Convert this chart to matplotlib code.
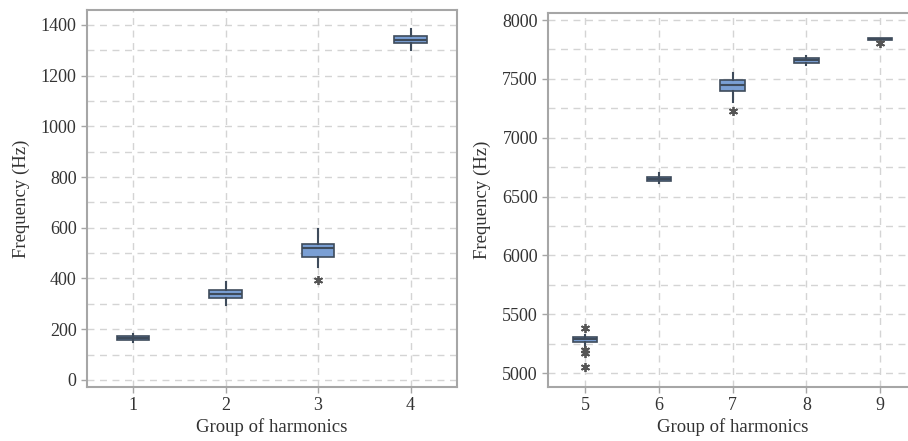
import matplotlib
matplotlib.use("Agg")
import matplotlib.pyplot as plt
from matplotlib.ticker import MultipleLocator

plt.rcParams['font.family'] = ['Liberation Serif', 'DejaVu Serif']

# ---- data ----
groups_left = [1, 2, 3, 4]
whislo_left = [148, 297, 447, 1301]
q1_left = [158, 322, 486, 1328]
med_left = [166, 339, 519, 1342]
q3_left = [173, 355, 535, 1357]
whishi_left = [182, 388, 594, 1383]
fliers_left = [[], [], [394], []]

groups_right = [5, 6, 7, 8, 9]
whislo_right = [5222, 6613, 7306, 7618, 7833]
q1_right = [5264, 6636, 7400, 7638, 7834]
med_right = [5287, 6653, 7448, 7657, 7841]
q3_right = [5303, 6670, 7491, 7675, 7848]
whishi_right = [5322, 6698, 7553, 7694, 7849]
fliers_right = [[5385, 5195, 5170, 5054], [], [7227], [], [7802]]

xlabel = "Group of harmonics"
ylabel = "Frequency (Hz)"

box_face = "#7a9fd4"
box_edge = "#3e4b5b"
frame_col = "#a6a6a6"
grid_col = "#d4d4d4"
text_col = "#333333"


def make_stats(wlo, q1, med, q3, whi, fl):
    return [dict(whislo=a, q1=b, med=c, q3=d, whishi=e, fliers=f)
            for a, b, c, d, e, f in zip(wlo, q1, med, q3, whi, fl)]


def draw(ax, stats, positions, width, ylim, major, minor, xlim):
    ax.set_axisbelow(True)
    ax.yaxis.set_major_locator(MultipleLocator(major))
    ax.yaxis.set_minor_locator(MultipleLocator(minor))
    ax.grid(True, which='both', axis='y', color=grid_col, linestyle=(0, (5, 4)), linewidth=1)
    ax.grid(True, which='major', axis='x', color=grid_col, linestyle=(0, (5, 4)), linewidth=1)
    ax.bxp(stats, positions=positions, widths=width, patch_artist=True,
           showcaps=False,
           boxprops=dict(facecolor=box_face, edgecolor=box_edge, linewidth=1.2),
           medianprops=dict(color=box_edge, linewidth=1.5),
           whiskerprops=dict(color=box_edge, linewidth=1.5),
           flierprops=dict(marker=(6, 2, 0), markersize=6.5, markeredgewidth=1.3,
                           markeredgecolor="#555555", markerfacecolor="#555555",
                           linestyle='none'),
           zorder=3)
    ax.set_xlim(*xlim)
    ax.set_ylim(*ylim)
    ax.set_xticks(positions)
    ax.set_xticklabels([str(p) for p in positions])
    for s in ax.spines.values():
        s.set_color(frame_col)
        s.set_linewidth(1.5)
    ax.tick_params(axis='both', which='major', colors=frame_col, labelcolor=text_col,
                   labelsize=13, length=4, width=1)
    ax.tick_params(axis='y', which='minor', length=0)
    ax.tick_params(axis='x', pad=3)
    ax.set_xlabel(xlabel, fontsize=13.5, color=text_col, labelpad=3)
    ax.set_ylabel(ylabel, fontsize=13.5, color=text_col, labelpad=8)


fig = plt.figure(figsize=(9.08, 4.41), dpi=100)
ax1 = fig.add_axes([0.0958, 0.1224, 0.4072, 0.855])
ax2 = fig.add_axes([0.6039, 0.1224, 0.406, 0.8474])

draw(ax1, make_stats(whislo_left, q1_left, med_left, q3_left, whishi_left, fliers_left),
     groups_left, 0.35, (-28, 1459), 200, 100, (0.5, 4.5))
draw(ax2, make_stats(whislo_right, q1_right, med_right, q3_right, whishi_right, fliers_right),
     groups_right, 0.33, (4881, 8057), 500, 250, (4.5, 9.5))

fig.savefig("out.png", dpi=100)
